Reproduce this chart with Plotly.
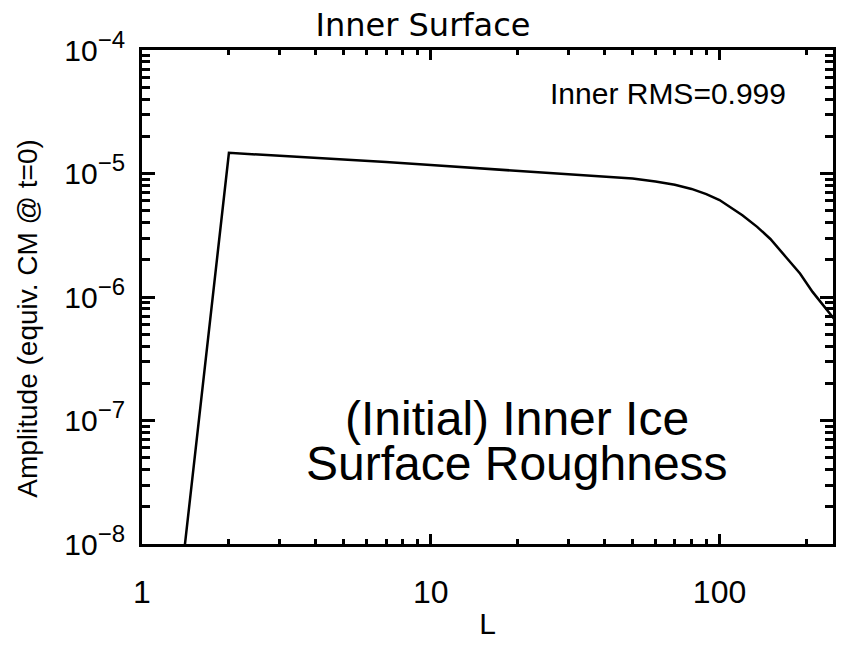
import plotly.graph_objects as go

# Spectrum of initial inner-ice surface roughness
L_mode = [1, 2, 3, 5, 7, 10, 15, 20, 30, 40, 50, 60, 70, 80, 90, 100,
          110, 120, 135, 150, 170, 190, 210, 230, 250]
amplitude = [8e-12, 1.47e-5, 1.39e-5, 1.30e-5, 1.24e-5, 1.17e-5, 1.10e-5, 1.05e-5,
             9.9e-6, 9.5e-6, 9.1e-6, 8.6e-6, 8.1e-6, 7.5e-6, 6.8e-6, 6.1e-6,
             5.3e-6, 4.6e-6, 3.7e-6, 2.95e-6, 2.1e-6, 1.55e-6, 1.1e-6, 8.5e-7, 6.6e-7]

x_tickvals = [1, 10, 100]
x_ticktext = ["1", "10", "100"]
x_minor = [2, 3, 4, 5, 6, 7, 8, 9, 20, 30, 40, 50, 60, 70, 80, 90, 200]
y_tickvals = [1e-8, 1e-7, 1e-6, 1e-5, 1e-4]
y_exponents = ["\u22128", "\u22127", "\u22126", "\u22125", "\u22124"]
y_ticktext = ["10<sup><span style='font-size:24px'>" + e + "</span></sup>"
              for e in y_exponents]
y_minor = [m * 10.0 ** e for e in range(-8, -4) for m in range(2, 10)]

FONT = "Liberation Sans, Arial, Helvetica, sans-serif"

fig = go.Figure()
fig.add_trace(go.Scatter(x=L_mode, y=amplitude, mode="lines",
                         line=dict(color="black", width=2.5), showlegend=False))

axis_common = dict(showline=True, linecolor="black", linewidth=3, mirror="allticks",
                   ticks="inside", tickcolor="black", tickwidth=3,
                   showgrid=False, zeroline=False)

fig.update_xaxes(type="log", range=[0, 2.393], tickmode="array",
                 tickvals=x_tickvals, ticktext=x_ticktext, ticklen=10,
                 tickfont=dict(family=FONT, size=32, color="black"),
                 ticklabelstandoff=18,
                 minor=dict(tickvals=x_minor, ticks="inside", ticklen=5,
                            tickwidth=3, tickcolor="black", showgrid=False),
                 title=dict(text="L", font=dict(family=FONT, size=30, color="black"),
                            standoff=4),
                 **axis_common)
fig.update_yaxes(type="log", range=[-8, -4], tickmode="array",
                 tickvals=y_tickvals, ticktext=y_ticktext, ticklen=13,
                 tickfont=dict(family=FONT, size=30, color="black"),
                 ticklabelstandoff=8,
                 minor=dict(tickvals=y_minor, ticks="inside", ticklen=8,
                            tickwidth=3, tickcolor="black", showgrid=False),
                 **axis_common)

fig.add_annotation(text="Amplitude (equiv. CM @ t=0)", xref="paper", yref="paper",
                   x=-0.1657, y=0.457, xanchor="center", yanchor="middle",
                   textangle=-90, showarrow=False,
                   font=dict(family=FONT, size=28, color="black"))
fig.add_annotation(text="Inner RMS=0.999", xref="paper", yref="paper",
                   x=0.761, y=0.912, xanchor="center", yanchor="middle",
                   showarrow=False, font=dict(family=FONT, size=30, color="black"))
fig.add_annotation(text="(Initial) Inner Ice", xref="paper", yref="paper",
                   x=0.543, y=0.255, xanchor="center", yanchor="middle",
                   showarrow=False, font=dict(family=FONT, size=48, color="black"))
fig.add_annotation(text="Surface Roughness", xref="paper", yref="paper",
                   x=0.543, y=0.162, xanchor="center", yanchor="middle",
                   showarrow=False, font=dict(family=FONT, size=48, color="black"))

fig.update_layout(
    width=846, height=645,
    margin=dict(l=142, r=10, t=50, b=83),
    paper_bgcolor="white", plot_bgcolor="white",
    title=dict(text="Inner Surface", xref="container", x=0.5, xanchor="center",
               yref="container", y=0.961, yanchor="middle",
               font=dict(family="DejaVu Sans, sans-serif", size=32, color="black")),
)

fig.write_html("out.html")
